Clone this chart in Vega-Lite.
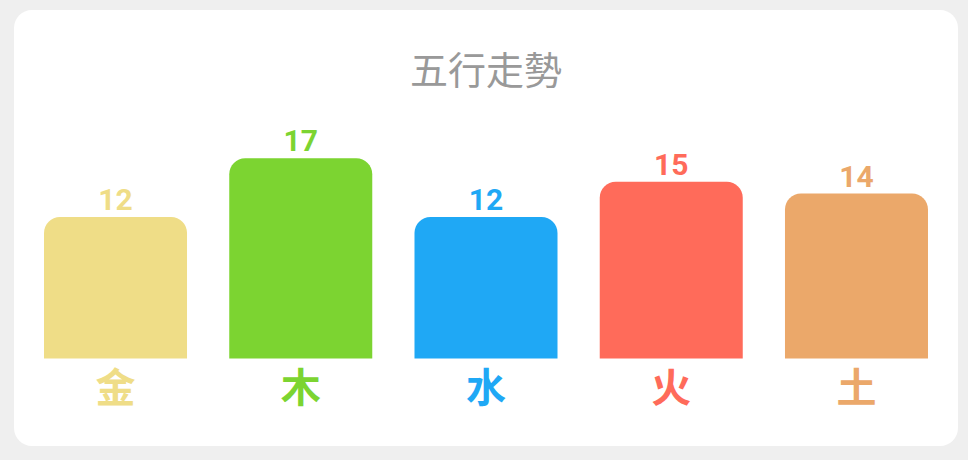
{
  "$schema": "https://vega.github.io/schema/vega-lite/v6.json",
  "width": 944,
  "height": 436,
  "autosize": "none",
  "padding": {"left": 14, "top": 10, "right": 10, "bottom": 14},
  "background": "#efefef",
  "view": {"fill": "#ffffff", "stroke": null, "cornerRadius": 18},
  "title": {
    "text": "五行走勢",
    "font": "Noto Sans CJK TC",
    "fontSize": 38,
    "fontWeight": "normal",
    "color": "#999999",
    "anchor": "middle",
    "frame": "group",
    "baseline": "alphabetic",
    "offset": -112
  },
  "data": {
    "values": [
      {"element": "金", "count": 12, "color": "#efdd87"},
      {"element": "木", "count": 17, "color": "#7cd431"},
      {"element": "水", "count": 12, "color": "#1fa8f5"},
      {"element": "火", "count": 15, "color": "#ff6b5a"},
      {"element": "土", "count": 14, "color": "#eba86a"}
    ]
  },
  "encoding": {
    "x": {
      "field": "element",
      "type": "nominal",
      "sort": null,
      "title": null,
      "scale": {"paddingInner": 0.228, "paddingOuter": 0.162},
      "axis": {
        "orient": "bottom",
        "offset": -88,
        "domain": false,
        "ticks": false,
        "grid": false,
        "labelAngle": 0,
        "labelFont": "Noto Sans CJK TC",
        "labelFontSize": 40,
        "labelFontWeight": "bold",
        "labelPadding": 11,
        "labelColor": {"expr": "datum.value == '金' ? '#efdd87' : datum.value == '木' ? '#7cd431' : datum.value == '水' ? '#1fa8f5' : datum.value == '火' ? '#ff6b5a' : '#eba86a'"}
      }
    },
    "y": {
      "field": "count",
      "type": "quantitative",
      "scale": {"domain": [-7.43, 29.58], "nice": false, "zero": false},
      "axis": null
    },
    "color": {"field": "color", "type": "nominal", "scale": null, "legend": null}
  },
  "layer": [
    {
      "mark": {"type": "bar", "cornerRadiusTopLeft": 16, "cornerRadiusTopRight": 16},
      "encoding": {"y2": {"datum": 0}}
    },
    {
      "mark": {"type": "text", "font": "Roboto", "fontSize": 30, "fontWeight": "bold", "baseline": "alphabetic", "dy": -7},
      "encoding": {"text": {"field": "count", "type": "quantitative"}}
    }
  ]
}
